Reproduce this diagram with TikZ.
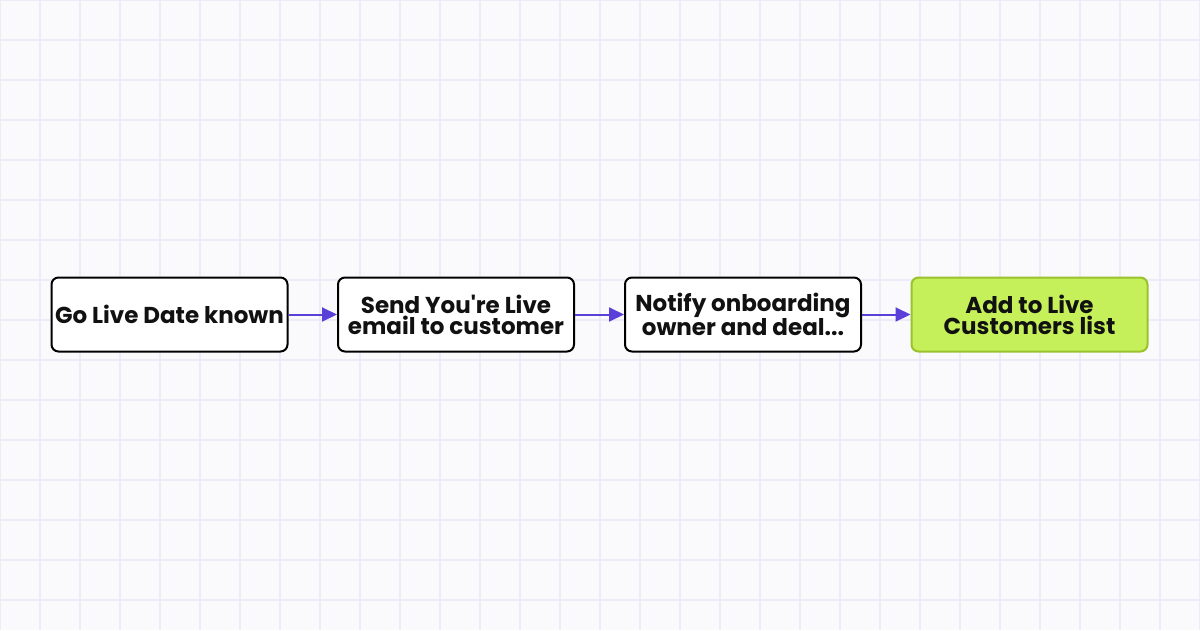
\documentclass[tikz,border=0pt]{standalone}
\usepackage{fontspec}
\newfontfamily\popfont{Poppins}
\usetikzlibrary{arrows.meta}
\definecolor{bg}{HTML}{FAFAFD}
\definecolor{gridc}{HTML}{EDEBF7}
\definecolor{arrowc}{HTML}{5B3FD9}
\definecolor{greenfill}{HTML}{C6F05A}
\definecolor{greenline}{HTML}{9AC12E}
\definecolor{txt}{HTML}{111111}
\tikzset{
  stepbox/.style={draw=black, line width=2pt, rounded corners=7pt, fill=white,
    minimum width=236pt, minimum height=74pt, inner sep=0pt, align=center,
    text=txt, font=\popfont\bfseries\fontsize{23}{21}\selectfont},
  greenbox/.style={stepbox, fill=greenfill, draw=greenline},
  flow/.style={draw=arrowc, line width=2pt, -{Triangle[length=15pt,width=14pt]}}
}
\begin{document}
\begin{tikzpicture}[x=1pt,y=1pt]
\useasboundingbox (0,0) rectangle (1200,-630);
\fill[bg] (0,0) rectangle (1200,-630);
\foreach \i in {0,40,...,1200} \draw[gridc, line width=1.2pt] (\i,0) -- (\i,-630);
\foreach \j in {0,40,...,600} \draw[gridc, line width=1.2pt] (0,-\j) -- (1200,-\j);
\node[stepbox] (a) at (169.5,-314.5) {Go Live Date known};
\node[stepbox] (b) at (456,-314.5) {Send You're Live\\email to customer};
\node[stepbox] (c) at (743,-314.5) {Notify onboarding\\owner and deal...};
\node[greenbox] (d) at (1029.5,-314.5) {Add to Live\\Customers list};
\draw[flow] (a) -- (b);
\draw[flow] (b) -- (c);
\draw[flow] (c) -- (d);
\end{tikzpicture}
\end{document}
